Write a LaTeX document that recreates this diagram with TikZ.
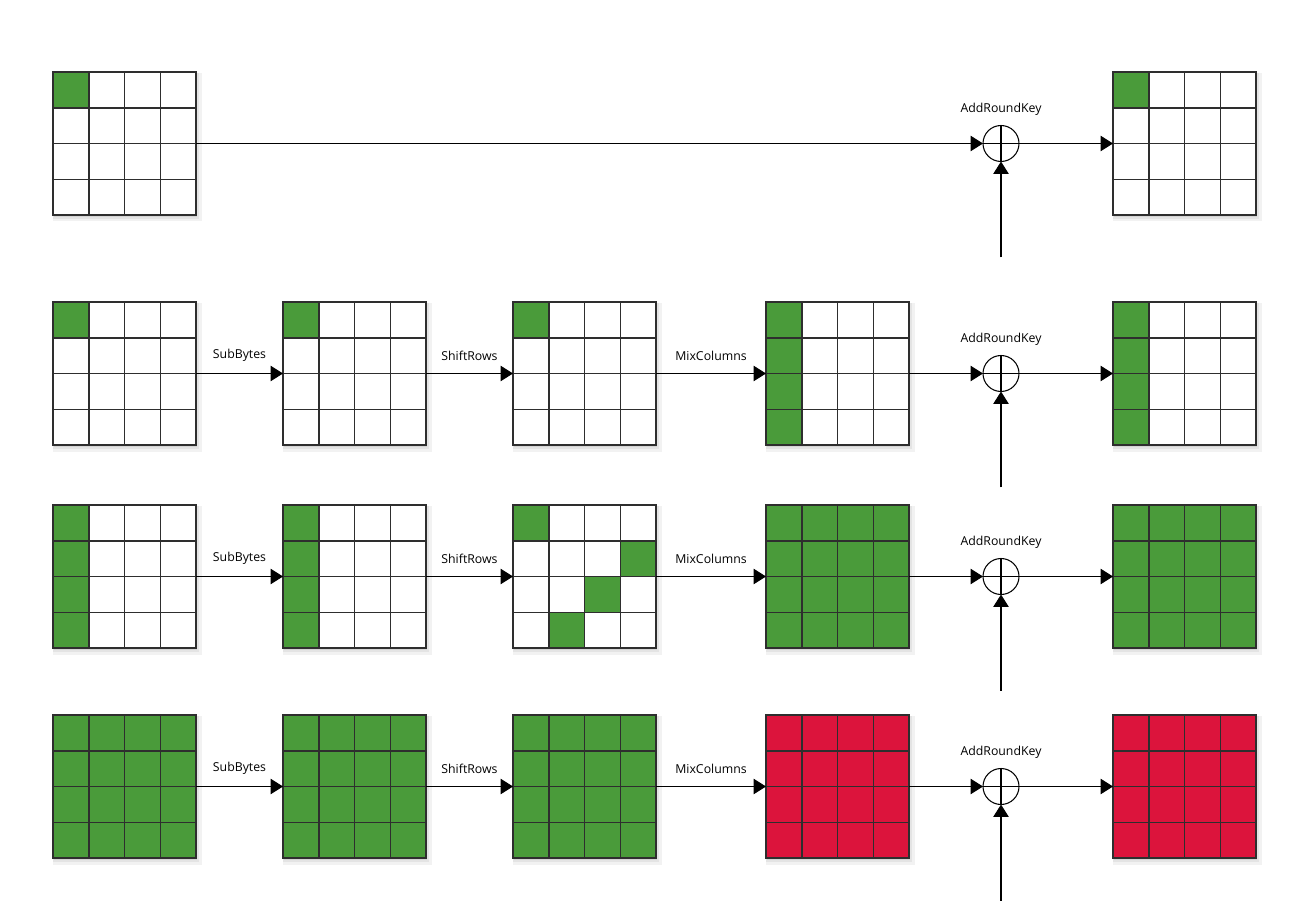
\documentclass[tikz,border=0pt]{standalone}
\usepackage{fontspec}
\setsansfont{Open Sans}
\usetikzlibrary{arrows.meta,positioning,calc,shadows}
\definecolor{Leaf}{HTML}{4A9B3A}
\definecolor{Crim}{HTML}{DC143C}
\definecolor{Wire}{HTML}{2E2E2E}
\tikzset{state/.style={draw=Wire,line width=.9pt,minimum size=2.86cm,inner sep=0pt,outer sep=0pt,drop shadow={shadow xshift=1.5pt,shadow yshift=-2pt,shadow scale=1.04,opacity=.1},drop shadow={shadow xshift=1pt,shadow yshift=-1.5pt,shadow scale=1.02,opacity=.12},drop shadow={shadow xshift=.8pt,shadow yshift=-1pt,opacity=.15}},sep/.style={draw=Wire,line width=.85pt},xor/.style={draw,circle,line width=.6pt,minimum size=.72cm,inner sep=0pt,outer sep=0pt,fill=white},flow/.style={-{Triangle[length=2.5mm,width=3.1mm]},line width=.6pt},lab/.style={font=\sffamily\fontsize{7}{8}\selectfont}}
\newcommand{\aesgrid}[5]{%
\node[state,fill=#3] (#1) at (#2) {};
\foreach \cc/\rr in {#5} \fill[#4] ($(#1.north west)+(\cc*35.75,\rr*35.75)$) rectangle +(35.75,35.75);
\foreach \k in {1,2,3} {\draw[sep] ($(#1.north west)+(\k*35.75,0)$) -- +(0,143);\draw[sep] ($(#1.north west)+(0,\k*35.75)$) -- +(143,0);}
\draw[sep,line width=.9pt] (#1.north west) rectangle (#1.south east);}
\begin{document}
\begin{tikzpicture}[x=0.02cm,y=-0.02cm]
\useasboundingbox (0,0) rectangle (1305,908);
\aesgrid{a0}{124.5,143.5}{white}{Leaf}{0/0}
\aesgrid{e0}{1184.5,143.5}{white}{Leaf}{0/0}
\aesgrid{a1}{124.5,373.5}{white}{Leaf}{0/0}
\aesgrid{b1}{354.5,373.5}{white}{Leaf}{0/0}
\aesgrid{c1}{584.5,373.5}{white}{Leaf}{0/0}
\aesgrid{d1}{837.5,373.5}{white}{Leaf}{0/0,0/1,0/2,0/3}
\aesgrid{e1}{1184.5,373.5}{white}{Leaf}{0/0,0/1,0/2,0/3}
\aesgrid{a2}{124.5,576.5}{white}{Leaf}{0/0,0/1,0/2,0/3}
\aesgrid{b2}{354.5,576.5}{white}{Leaf}{0/0,0/1,0/2,0/3}
\aesgrid{c2}{584.5,576.5}{white}{Leaf}{0/0,3/1,2/2,1/3}
\aesgrid{d2}{837.5,576.5}{Leaf}{Leaf}{0/0}
\aesgrid{e2}{1184.5,576.5}{Leaf}{Leaf}{0/0}
\aesgrid{a3}{124.5,786.5}{Leaf}{Leaf}{0/0}
\aesgrid{b3}{354.5,786.5}{Leaf}{Leaf}{0/0}
\aesgrid{c3}{584.5,786.5}{Leaf}{Leaf}{0/0}
\aesgrid{d3}{837.5,786.5}{Crim}{Crim}{0/0}
\aesgrid{e3}{1184.5,786.5}{Crim}{Crim}{0/0}
\foreach \r/\y in {0/143.5,1/373.5,2/576.5,3/786.5} {
\node[xor,label={[lab,label distance=.08cm]above:AddRoundKey}] (x\r) at (1001,\y) {};
\coordinate (k\r) at (1001,\y+114);
\draw[line width=.6pt] (x\r.north)--(x\r.south) (x\r.west)--(x\r.east);
\draw[flow] (x\r)--(e\r);\draw[flow] (k\r)--(x\r);}
\draw[flow] (a0)--(x0);
\foreach \r in {1,2,3} {
\draw[flow] (a\r)-- node[lab,yshift=.36cm] {SubBytes} (b\r);
\draw[flow] (b\r)-- node[lab,yshift=.36cm] {ShiftRows} (c\r);
\draw[flow] (c\r)-- node[lab,yshift=.36cm] {MixColumns} (d\r);
\draw[flow] (d\r)--(x\r);}
\end{tikzpicture}
\end{document}
